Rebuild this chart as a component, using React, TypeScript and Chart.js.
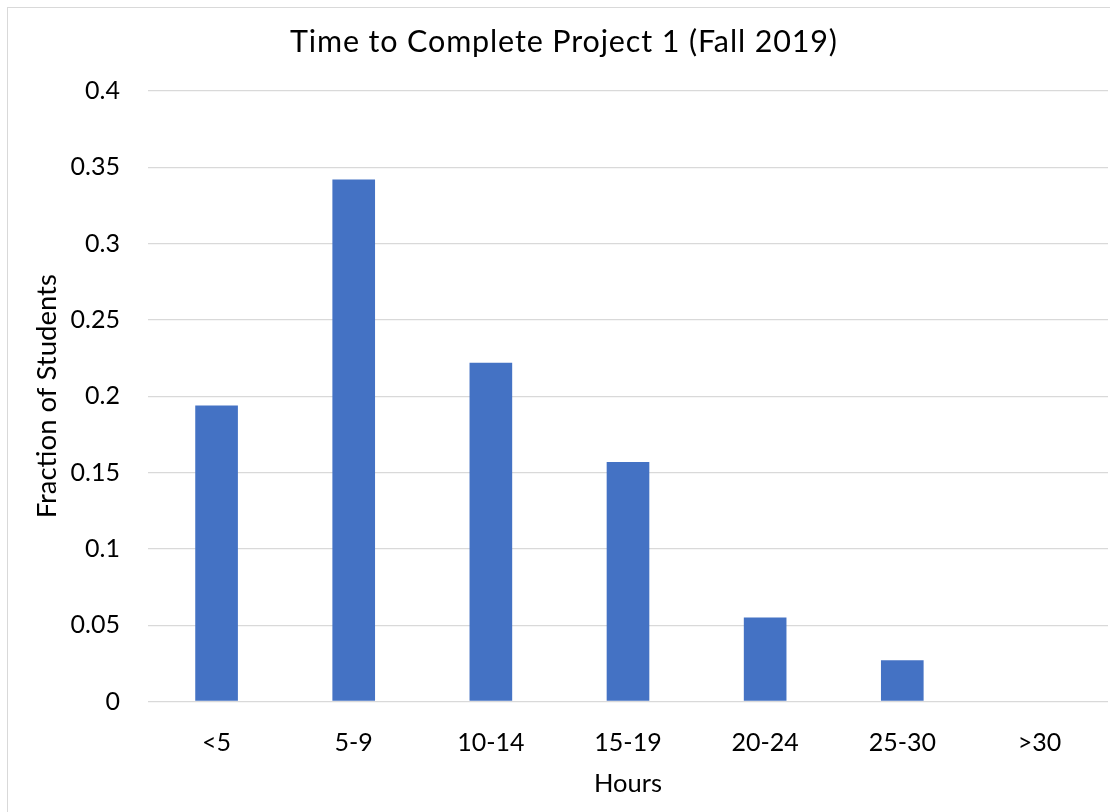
import React, { useEffect, useRef } from "react";
import { Chart, registerables } from "chart.js";

Chart.register(...registerables);

const chartTitle = "Time to Complete Project 1 (Fall 2019)";
const xAxisTitle = "Hours";
const yAxisTitle = "Fraction of Students";
const categories = ["<5", "5-9", "10-14", "15-19", "20-24", "25-30", ">30"];
const fractions = [0.194, 0.342, 0.222, 0.157, 0.055, 0.027, 0];
const yTickLabels = ["0", "0.05", "0.1", "0.15", "0.2", "0.25", "0.3", "0.35", "0.4"];
const yMin = 0;
const yMax = 0.4;
const yStep = 0.05;

const FONT = "Lato, 'Open Sans', sans-serif";

const framePlugin = {
  id: "frame",
  beforeDraw(chart: any) {
    const ctx = chart.ctx;
    ctx.save();
    ctx.fillStyle = "#ffffff";
    ctx.fillRect(0, 0, chart.width, chart.height);
    ctx.strokeStyle = "#d9d9d9";
    ctx.lineWidth = 1;
    ctx.strokeRect(7.5, 7.5, chart.width + 20, chart.height + 20);
    ctx.restore();
  },
};

const titlePlugin = {
  id: "wideTitle",
  afterDraw(chart: any) {
    const ctx = chart.ctx;
    ctx.save();
    ctx.font = `30.5px ${FONT}`;
    ctx.fillStyle = "#000000";
    ctx.textAlign = "left";
    ctx.textBaseline = "alphabetic";
    (ctx as any).letterSpacing = "0px";
    const w = ctx.measureText(chartTitle).width;
    const targetWidth = 547;
    const spacing = Math.max(0, (targetWidth - w) / (chartTitle.length - 1));
    (ctx as any).letterSpacing = `${spacing}px`;
    ctx.fillText(chartTitle, 290, 52);
    ctx.restore();
  },
};

export default function App() {
  const ref = useRef<HTMLCanvasElement | null>(null);

  useEffect(() => {
    if (!ref.current) return;
    const chart = new Chart(ref.current, {
      type: "bar",
      data: {
        labels: categories,
        datasets: [
          {
            data: fractions,
            backgroundColor: "#4472c4",
            borderWidth: 0,
            barPercentage: 0.311,
            categoryPercentage: 1,
          },
        ],
      },
      plugins: [framePlugin, titlePlugin],
      options: {
        animation: false,
        responsive: false,
        devicePixelRatio: 1,
        layout: { padding: { top: 91, left: 0, right: 2, bottom: 0 } },
        plugins: {
          legend: { display: false },
          tooltip: { enabled: false },
          title: { display: false },
        },
        scales: {
          x: {
            grid: { display: false, drawTicks: false },
            border: { display: false },
            ticks: {
              color: "#000000",
              font: { family: FONT, size: 25 },
              padding: 26,
              maxRotation: 0,
              autoSkip: false,
            },
            title: {
              display: true,
              text: xAxisTitle,
              color: "#000000",
              font: { family: FONT, size: 25.5 },
              padding: { top: 0, bottom: 13 },
            },
            afterFit: (s: any) => {
              s.height = 110.5;
            },
          },
          y: {
            min: yMin,
            max: yMax,
            grid: { color: "#d9d9d9", lineWidth: 1.3, drawTicks: false },
            border: { display: false },
            ticks: {
              stepSize: yStep,
              color: "#000000",
              font: { family: FONT, size: 25 },
              padding: 28,
              callback: (_v: any, i: number) => yTickLabels[i],
            },
            title: {
              display: true,
              text: yAxisTitle,
              color: "#000000",
              font: { family: FONT, size: 27.5 },
              padding: { top: 31, bottom: 0 },
            },
            afterFit: (s: any) => {
              s.width = 148;
            },
          },
        },
      },
    } as any);
    return () => chart.destroy();
  }, []);

  return (
    <div style={{ position: "fixed", left: 0, top: 0, width: 1110, height: 812, background: "#fff" }}>
      <canvas ref={ref} width={1110} height={812} style={{ display: "block", width: 1110, height: 812 }} />
    </div>
  );
}
